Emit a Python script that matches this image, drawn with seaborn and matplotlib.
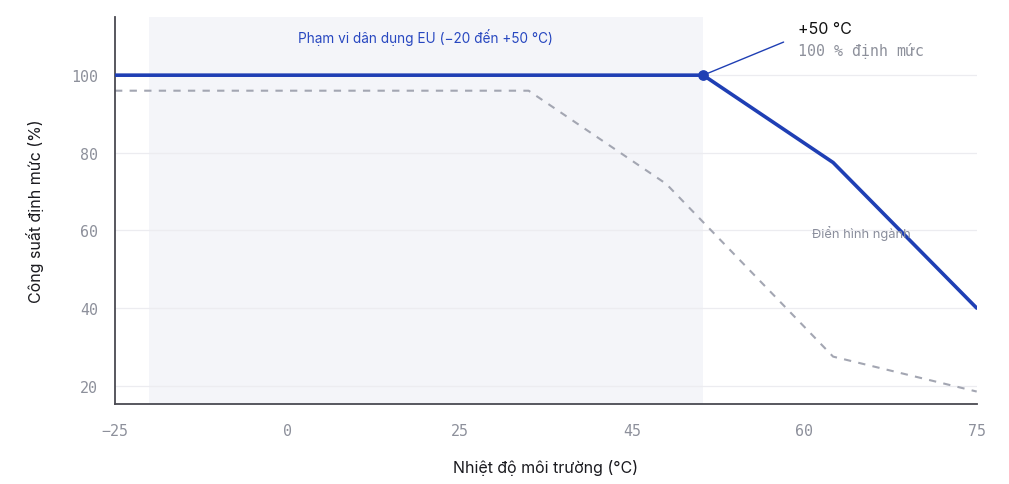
import numpy as np
import pandas as pd
import matplotlib
matplotlib.use("Agg")
import matplotlib.pyplot as plt
import seaborn as sns

# Trục x: các mốc nhãn và vị trí (thang chia từng đoạn)
x_ticks = [-25, 0, 25, 45, 60, 75]
scale_vals = [-25, 0, 25, 45, 50, 60, 75]
scale_pos = [0, 1, 2, 3, 3.413, 4, 5]

y_ticks = [20, 40, 60, 80, 100]

# Đường công suất của sản phẩm
rated_temp = [-25, 50, 62.5, 75]
rated_power = [100, 100, 77.5, 40]

# Đường điển hình ngành
typical_temp = [-25, 33, 47.4, 62.5, 75]
typical_power = [96, 96, 72, 27.5, 18.5]

eu_range = (-20, 50)

BLUE = "#1f3fb4"
GRAY = "#a3a6b2"
TICK = "#8d909b"

sns.set_theme(style="white")
plt.rcParams['font.family'] = ['Inter', 'DejaVu Sans']


def fwd(x):
    return np.interp(x, scale_vals, scale_pos)


def inv(p):
    return np.interp(p, scale_pos, scale_vals)


fig = plt.figure(figsize=(10.09, 4.85), dpi=100)
ax = fig.add_axes([0.114, 0.165, 0.854, 0.798])
ax.set_xscale("function", functions=(fwd, inv))

ax.axvspan(*eu_range, color="#f4f5f9", zorder=0, lw=0)
for yv in y_ticks:
    ax.axhline(yv, color="#ececf0", lw=0.9, zorder=1)

df_rated = pd.DataFrame({"t": rated_temp, "p": rated_power})
df_typ = pd.DataFrame({"t": typical_temp, "p": typical_power})

sns.lineplot(data=df_typ, x="t", y="p", ax=ax, color=GRAY, lw=1.5,
             linestyle=(0, (3.5, 3.5)), zorder=2)
sns.lineplot(data=df_rated, x="t", y="p", ax=ax, color=BLUE, lw=2.6,
             zorder=3)
ax.scatter([rated_temp[1]], [rated_power[1]], s=45, color=BLUE, zorder=4)

ax.set_xlim(-25, 75)
ax.set_ylim(15.3, 115)
ax.set_xticks(x_ticks)
ax.set_xticklabels([str(v).replace("-", "\u2212") for v in x_ticks])
ax.set_yticks(y_ticks)
ax.tick_params(axis="both", length=0, labelsize=10.8, labelcolor=TICK)
ax.tick_params(axis="x", pad=14)
ax.tick_params(axis="y", pad=12)
for lab in ax.get_xticklabels() + ax.get_yticklabels():
    lab.set_fontfamily("DejaVu Sans Mono")

for s in ["top", "right"]:
    ax.spines[s].set_visible(False)
for s in ["left", "bottom"]:
    ax.spines[s].set_color("#4a4a52")
    ax.spines[s].set_linewidth(1.3)

ax.set_xlabel("Nhiệt độ môi trường (°C)", fontsize=11.5, color="#1a1a1f", labelpad=15)
ax.set_ylabel("Công suất định mức (%)", fontsize=11.5, color="#1a1a1f", labelpad=20)

ax.text(20, 110, "Phạm vi dân dụng EU (−20 đến +50 °C)",
        ha="center", va="center", fontsize=9.8, color="#2747c0")

ax.annotate("", xy=(rated_temp[1], rated_power[1]), xytext=(58.2, 108.8),
            arrowprops=dict(arrowstyle="-", color=BLUE, lw=1.0))
ax.text(59.4, 112, "+50 °C", fontsize=11.5, color="#111111", va="center", ha="left")
ax.text(59.4, 106.6, "100 % định mức", fontsize=10.7, color=TICK, va="center", ha="left",
        family="DejaVu Sans Mono")

ax.text(65, 59.6, "Điển hình ngành", fontsize=9.3, color="#8a8e9c", ha="center", va="center")

fig.savefig("out.png", dpi=100)
